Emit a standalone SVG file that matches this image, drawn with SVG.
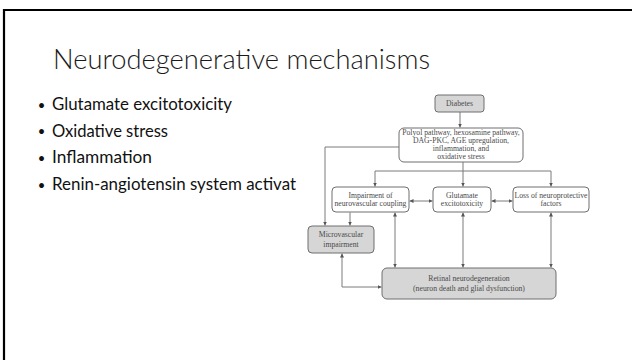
<svg xmlns="http://www.w3.org/2000/svg" width="632" height="360" viewBox="0 0 632 360">
<style>
.title{font-family:Lato,"Liberation Sans",Arial,sans-serif;font-weight:300;font-size:28px;fill:#1a1a1a;}
.bul{font-family:Lato,"Liberation Sans",Arial,sans-serif;font-size:17px;fill:#111;}
.dot{font-family:Lato,"Liberation Sans",Arial,sans-serif;font-size:13px;fill:#111;text-anchor:middle;}
.box{stroke:#6e6e6e;stroke-width:1;fill:#ffffff;}
.gbox{stroke:#6e6e6e;stroke-width:1;fill:#d6d6d6;}
.t{font-family:"Liberation Serif","Times New Roman",serif;font-size:7.7px;fill:#4a4a4a;text-anchor:middle;}
.c{fill:none;stroke:#7a7a7a;stroke-width:1;}
</style>
<defs>
<marker id="ah" viewBox="0 0 6 6" refX="6" refY="3" markerWidth="4" markerHeight="4" orient="auto-start-reverse" markerUnits="userSpaceOnUse">
<path d="M0,0 L6,3 L0,6 z" fill="#555"/>
</marker>
</defs>
<rect x="0" y="0" width="632" height="360" fill="#ffffff"/>
<path d="M4,370 V10 H640" fill="none" stroke="#000" stroke-width="2.2"/>
<text class="title" x="53" y="69" textLength="377" lengthAdjust="spacingAndGlyphs">Neurodegenerative mechanisms</text>
<g id="bullets">
<text class="dot" x="41.5" y="109.5">•</text><text class="bul" x="52" y="110" textLength="180" lengthAdjust="spacingAndGlyphs">Glutamate excitotoxicity</text>
<text class="dot" x="41.5" y="136.2">•</text><text class="bul" x="52" y="136.7" textLength="116" lengthAdjust="spacingAndGlyphs">Oxidative stress</text>
<text class="dot" x="41.5" y="162.8">•</text><text class="bul" x="52" y="163.3" textLength="100" lengthAdjust="spacingAndGlyphs">Inflammation</text>
<text class="dot" x="41.5" y="189.5">•</text><text class="bul" x="52" y="190" textLength="244" lengthAdjust="spacingAndGlyphs">Renin-angiotensin system activat</text>
</g>
<g id="connectors">
<path class="c" d="M460,112 V127.5" marker-end="url(#ah)"/>
<path class="c" d="M399,147 H325 V225.5" marker-end="url(#ah)"/>
<path class="c" d="M463,162 V171"/>
<path class="c" d="M375,171 H551"/>
<path class="c" d="M375,171 V186.5" marker-end="url(#ah)"/>
<path class="c" d="M463,171 V186.5" marker-end="url(#ah)"/>
<path class="c" d="M551,171 V186.5" marker-end="url(#ah)"/>
<path class="c" d="M409.5,201 H432.5" marker-start="url(#ah)" marker-end="url(#ah)"/>
<path class="c" d="M491.5,201 H512.5" marker-start="url(#ah)" marker-end="url(#ah)"/>
<path class="c" d="M350,212.5 V225.5" marker-end="url(#ah)"/>
<path class="c" d="M395,212.5 V267.5" marker-start="url(#ah)" marker-end="url(#ah)"/>
<path class="c" d="M463,212.5 V267.5" marker-start="url(#ah)" marker-end="url(#ah)"/>
<path class="c" d="M551,212.5 V267.5" marker-start="url(#ah)" marker-end="url(#ah)"/>
<path class="c" d="M342,253.5 V287 H381.5" marker-start="url(#ah)" marker-end="url(#ah)"/>
</g>
<g id="diabetes">
<rect class="gbox" x="435" y="95" width="49" height="17" rx="3"/>
<text class="t" x="459.5" y="106">Diabetes</text>
</g>
<g id="polyol">
<rect class="box" x="399" y="128" width="124" height="34" rx="5"/>
<text class="t" x="461" y="134.5">Polyol pathway, hexosamine pathway,</text>
<text class="t" x="461" y="142.7">DAG-PKC, AGE upregulation,</text>
<text class="t" x="461" y="151">inflammation, and</text>
<text class="t" x="461" y="159.3">oxidative stress</text>
</g>
<g id="impairment">
<rect class="box" x="332" y="187" width="77" height="25" rx="4"/>
<text class="t" x="370.5" y="197.5">Impairment of</text>
<text class="t" x="370.5" y="206">neurovascular coupling</text>
</g>
<g id="glutamate">
<rect class="box" x="433" y="187" width="58" height="25" rx="4"/>
<text class="t" x="462" y="197.5">Glutamate</text>
<text class="t" x="462" y="206">excitotoxicity</text>
</g>
<g id="loss">
<rect class="box" x="513" y="187" width="76" height="25" rx="4"/>
<text class="t" x="551" y="197.5">Loss of neuroprotective</text>
<text class="t" x="551" y="206">factors</text>
</g>
<g id="microvascular">
<rect class="gbox" x="308" y="226" width="66" height="27" rx="4"/>
<text class="t" x="341" y="237">Microvascular</text>
<text class="t" x="341" y="246.5">impairment</text>
</g>
<g id="retinal">
<rect class="gbox" x="382" y="268" width="174" height="31" rx="5"/>
<text class="t" x="469" y="281">Retinal neurodegeneration</text>
<text class="t" x="469" y="291">(neuron death and glial dysfunction)</text>
</g>
</svg>
